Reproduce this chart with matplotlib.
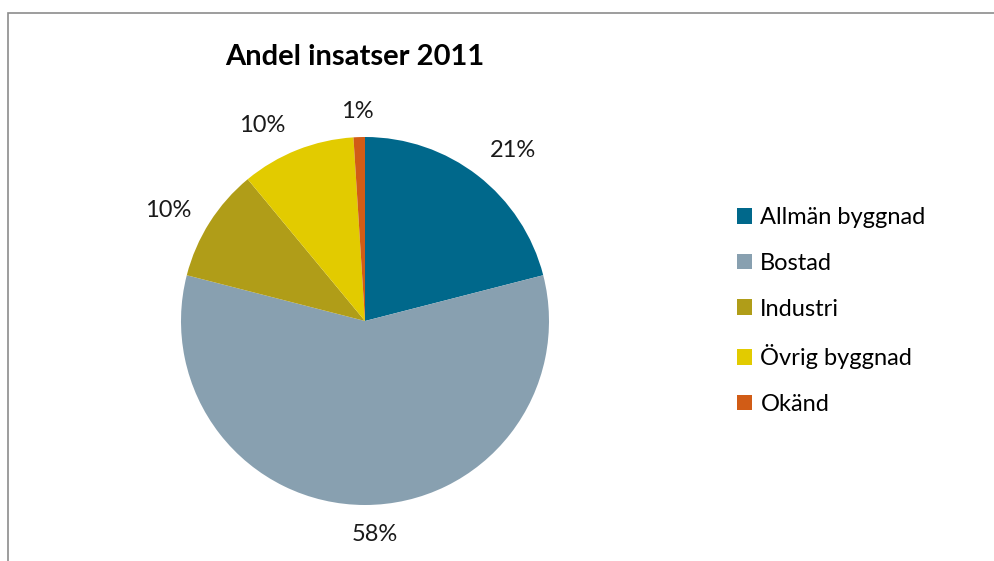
import numpy as np
import matplotlib.pyplot as plt
from matplotlib.patches import Patch, Rectangle

plt.rcParams['font.family'] = ['Lato', 'DejaVu Sans']

categories = ['Allmän byggnad', 'Bostad', 'Industri', 'Övrig byggnad', 'Okänd']
shares = [21, 58, 10, 10, 1]
colors = ['#00688B', '#88A0B0', '#B09D18', '#E2CB00', '#D15C16']
title = 'Andel insatser 2011'

fig = plt.figure(figsize=(9.95, 5.61), dpi=100)

# chart area frame, runs off the right and bottom edges
fig.patches.append(Rectangle((8 / 995, -0.05), 1.0, 1 - 13 / 561 + 0.05,
                             transform=fig.transFigure, fill=False,
                             edgecolor='#8C8C8C', linewidth=1.2))

cx, cy, r = 365, 321, 184
ax = fig.add_axes([(cx - r) / 995, 1 - (cy + r) / 561, 2 * r / 995, 2 * r / 561])
wedges, _ = ax.pie(shares, colors=colors, startangle=90, counterclock=False,
                   radius=1.0, wedgeprops=dict(linewidth=0))
ax.set_xlim(-1, 1)
ax.set_ylim(-1, 1)
ax.set_aspect('equal')
ax.axis('off')

# percentage labels outside each slice (distance, angle nudge in degrees)
label_dist = [1.229, 1.159, 1.226, 1.203, 1.137]
label_nudge = [-3.1, 2.7, 3.2, 6.1, 0.4]
for w, s, d, n in zip(wedges, shares, label_dist, label_nudge):
    ang = np.deg2rad((w.theta1 + w.theta2) / 2 + n)
    ax.text(d * np.cos(ang), d * np.sin(ang), f'{s}%', ha='center', va='center',
            fontsize=17, color='#1a1a1a')

fig.text(355 / 995, 1 - 57 / 561, title, ha='center', va='center',
         fontsize=21, fontweight='bold')

handles = [Patch(facecolor=c, edgecolor='none') for c in colors]
fig.legend(handles, categories, loc='center left', bbox_to_anchor=(737 / 995, 1 - 311 / 561),
           frameon=False, fontsize=17, handlelength=0.64, handleheight=0.64,
           handletextpad=0.35, labelspacing=1.04, borderpad=0, borderaxespad=0)

fig.savefig('out.png', dpi=100)
